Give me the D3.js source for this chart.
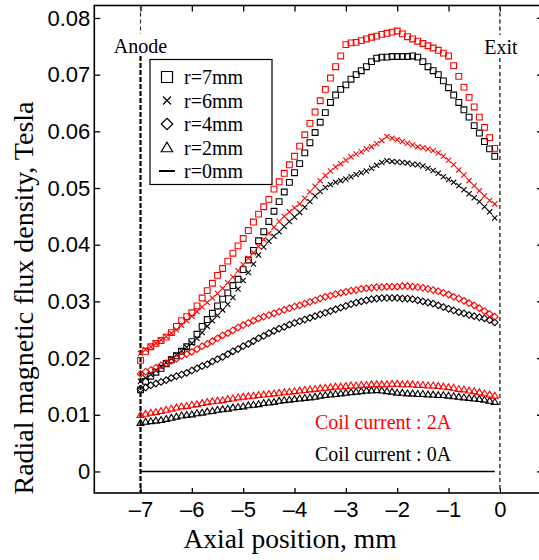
<!DOCTYPE html>
<html>
<head>
<meta charset="utf-8">
<script src="https://cdn.jsdelivr.net/npm/d3@7"></script>
<style>
  body { margin: 0; background: #fff; }
  svg { display: block; }
</style>
</head>
<body>
<svg id="chart" width="539" height="560"></svg>
<script>
// Axial measurement positions (mm), anode at -7, exit at 0
const positions = [
  -7.0, -6.9, -6.8, -6.7, -6.6, -6.5, -6.4, -6.3, -6.2, -6.1,
  -6.0, -5.9, -5.8, -5.7, -5.6, -5.5, -5.4, -5.3, -5.2, -5.1,
  -5.0, -4.9, -4.8, -4.7, -4.6, -4.5, -4.4, -4.3, -4.2, -4.1,
  -4.0, -3.9, -3.8, -3.7, -3.6, -3.5, -3.4, -3.3, -3.2, -3.1,
  -3.0, -2.9, -2.8, -2.7, -2.6, -2.5, -2.4, -2.3, -2.2, -2.1,
  -2.0, -1.9, -1.8, -1.7, -1.6, -1.5, -1.4, -1.3, -1.2, -1.1,
  -1.0, -0.9, -0.8, -0.7, -0.6, -0.5, -0.4, -0.3, -0.2, -0.1
];

// Radial flux density (T), coil current 2A
const r7_2A = [
  .0196, .0212, .0220, .0226, .0231, .0237, .0245, .0256, .0266, .0273,
  .0280, .0292, .0306, .0319, .0332, .0346, .0358, .0371, .0385, .0398,
  .0411, .0425, .0440, .0454, .0467, .0480, .0498, .0511, .0526, .0541,
  .0556, .0574, .0594, .0614, .0634, .0654, .0674, .0694, .0714, .0733,
  .0753, .0756, .0757, .0760, .0763, .0766, .0768, .0771, .0773, .0775,
  .0777, .0772, .0767, .0763, .0759, .0755, .0751, .0747, .0743, .0738,
  .0733, .0716, .0697, .0678, .0660, .0643, .0625, .0607, .0589, .0570
];
const r6_2A = [
  .0208, .0215, .0220, .0226, .0232, .0238, .0244, .0250, .0258, .0266,
  .0274, .0282, .0290, .0298, .0306, .0314, .0323, .0333, .0343, .0354,
  .0365, .0376, .0386, .0397, .0409, .0420, .0431, .0441, .0450, .0458,
  .0465, .0472, .0482, .0493, .0503, .0513, .0522, .0530, .0537, .0543,
  .0549, .0555, .0560, .0564, .0569, .0573, .0578, .0584, .0591, .0588,
  .0585, .0582, .0579, .0576, .0573, .0571, .0569, .0566, .0562, .0556,
  .0549, .0541, .0532, .0523, .0513, .0504, .0495, .0486, .0478, .0472
];
const r4_2A = [
  .0172, .0176, .0179, .0183, .0187, .0191, .0195, .0199, .0204, .0207,
  .0211, .0216, .0221, .0225, .0230, .0235, .0240, .0244, .0249, .0254,
  .0258, .0262, .0266, .0270, .0273, .0276, .0279, .0282, .0285, .0288,
  .0291, .0293, .0296, .0299, .0302, .0305, .0308, .0310, .0313, .0315,
  .0317, .0319, .0320, .0322, .0323, .0324, .0325, .0325, .0326, .0326,
  .0326, .0327, .0327, .0326, .0325, .0324, .0322, .0320, .0318, .0315,
  .0312, .0308, .0305, .0301, .0297, .0293, .0288, .0283, .0278, .0273
];
const r2_2A = [
  .0100, .0102, .0104, .0105, .0107, .0109, .0111, .0113, .0115, .0116,
  .0118, .0119, .0121, .0123, .0124, .0125, .0126, .0128, .0129, .0131,
  .0132, .0133, .0134, .0135, .0136, .0137, .0138, .0139, .0140, .0141,
  .0142, .0143, .0144, .0145, .0146, .0147, .0148, .0149, .0150, .0150,
  .0151, .0152, .0152, .0153, .0153, .0154, .0154, .0154, .0154, .0155,
  .0155, .0154, .0154, .0154, .0153, .0153, .0152, .0152, .0151, .0150,
  .0149, .0148, .0146, .0145, .0143, .0142, .0140, .0138, .0136, .0134
];
const r0_2A = [
  0, 0, 0, 0, 0, 0, 0, 0, 0, 0,
  0, 0, 0, 0, 0, 0, 0, 0, 0, 0,
  0, 0, 0, 0, 0, 0, 0, 0, 0, 0,
  0, 0, 0, 0, 0, 0, 0, 0, 0, 0,
  0, 0, 0, 0, 0, 0, 0, 0, 0, 0,
  0, 0, 0, 0, 0, 0, 0, 0, 0, 0,
  0, 0, 0, 0, 0, 0, 0, 0, 0, 0
];

// Radial flux density (T), coil current 0A
const r7_0A = [
  .0144, .0159, .0168, .0175, .0182, .0190, .0197, .0204, .0212, .0220,
  .0229, .0242, .0256, .0268, .0279, .0292, .0304, .0315, .0328, .0339,
  .0356, .0373, .0390, .0407, .0423, .0441, .0459, .0476, .0493, .0510,
  .0527, .0543, .0562, .0580, .0598, .0616, .0633, .0651, .0664, .0674,
  .0682, .0692, .0700, .0707, .0714, .0723, .0729, .0731, .0731, .0732,
  .0732, .0732, .0732, .0733, .0731, .0723, .0714, .0707, .0700, .0689,
  .0677, .0664, .0651, .0638, .0625, .0610, .0597, .0582, .0569, .0556
];
const r6_0A = [
  .0159, .0165, .0171, .0178, .0185, .0192, .0199, .0206, .0213, .0219,
  .0226, .0235, .0245, .0256, .0266, .0275, .0285, .0295, .0307, .0322,
  .0337, .0351, .0366, .0382, .0396, .0406, .0415, .0423, .0432, .0441,
  .0449, .0457, .0466, .0476, .0486, .0494, .0501, .0506, .0510, .0513,
  .0516, .0520, .0524, .0527, .0530, .0535, .0540, .0545, .0548, .0547,
  .0546, .0545, .0544, .0542, .0541, .0539, .0535, .0531, .0526, .0520,
  .0515, .0510, .0504, .0497, .0490, .0483, .0476, .0467, .0458, .0447
];
const r4_0A = [
  .0145, .0148, .0152, .0155, .0158, .0161, .0165, .0168, .0171, .0174,
  .0178, .0182, .0186, .0189, .0194, .0198, .0202, .0207, .0212, .0216,
  .0221, .0225, .0230, .0235, .0239, .0244, .0248, .0252, .0255, .0259,
  .0262, .0265, .0268, .0271, .0274, .0277, .0280, .0283, .0286, .0289,
  .0292, .0295, .0298, .0300, .0302, .0304, .0305, .0306, .0306, .0306,
  .0306, .0305, .0305, .0304, .0302, .0300, .0298, .0296, .0293, .0290,
  .0287, .0284, .0281, .0279, .0276, .0274, .0272, .0270, .0267, .0263
];
const r2_0A = [
  .0086, .0088, .0089, .0090, .0091, .0093, .0095, .0097, .0099, .0100,
  .0101, .0103, .0104, .0106, .0107, .0109, .0110, .0111, .0113, .0114,
  .0115, .0117, .0118, .0119, .0121, .0122, .0123, .0125, .0126, .0127,
  .0128, .0129, .0130, .0131, .0132, .0134, .0135, .0136, .0137, .0138,
  .0139, .0140, .0141, .0142, .0143, .0143, .0144, .0143, .0142, .0141,
  .0139, .0139, .0138, .0138, .0137, .0137, .0136, .0136, .0135, .0135,
  .0134, .0133, .0132, .0131, .0130, .0129, .0128, .0127, .0125, .0123
];
const r0_0A = [
  0, 0, 0, 0, 0, 0, 0, 0, 0, 0,
  0, 0, 0, 0, 0, 0, 0, 0, 0, 0,
  0, 0, 0, 0, 0, 0, 0, 0, 0, 0,
  0, 0, 0, 0, 0, 0, 0, 0, 0, 0,
  0, 0, 0, 0, 0, 0, 0, 0, 0, 0,
  0, 0, 0, 0, 0, 0, 0, 0, 0, 0,
  0, 0, 0, 0, 0, 0, 0, 0, 0, 0
];

const legendLabels = ["r=7mm", "r=6mm", "r=4mm", "r=2mm", "r=0mm"];
const legendShapes = ["square", "cross", "diamond", "triangle", "line"];
const xTicks = [-7, -6, -5, -4, -3, -2, -1, 0];
const yTicks = [0, 0.01, 0.02, 0.03, 0.04, 0.05, 0.06, 0.07, 0.08];
const anodePos = -7;
const exitPos = 0;

const serif = "'Liberation Serif', 'Times New Roman', serif";
const sans = "'Liberation Sans', Arial, sans-serif";

const svg = d3.select("#chart");
const frame = { left: 94.3, right: 543, top: 5.5, bottom: 493 };

const x = d3.scaleLinear().domain([-7.9, 0.84]).range([frame.left, frame.right]);
const y = d3.scaleLinear().domain([-0.0038, 0.0822]).range([frame.bottom, frame.top]);

svg.append("defs").append("clipPath").attr("id", "plotclip")
  .append("rect")
  .attr("x", frame.left).attr("y", frame.top)
  .attr("width", frame.right - frame.left).attr("height", frame.bottom - frame.top);

// Axes with inward ticks on all four sides
const axB = svg.append("g").attr("transform", `translate(0,${frame.bottom})`)
  .call(d3.axisBottom(x).tickValues(xTicks).tickSizeInner(-5).tickSizeOuter(0).tickPadding(8)
    .tickFormat(d => d === 0 ? "0" : "\u2013" + Math.abs(d)));
const axT = svg.append("g").attr("transform", `translate(0,${frame.top})`)
  .call(d3.axisTop(x).tickValues(xTicks).tickSizeInner(-6).tickSizeOuter(0).tickFormat(""));
const axL = svg.append("g").attr("transform", `translate(${frame.left},0)`)
  .call(d3.axisLeft(y).tickValues(yTicks).tickSizeInner(-6).tickSizeOuter(0).tickPadding(4)
    .tickFormat(d => d === 0 ? "0" : d3.format(".2f")(d)));
const axR = svg.append("g").attr("transform", `translate(${frame.right},0)`)
  .call(d3.axisRight(y).tickValues(yTicks).tickSizeInner(-6).tickSizeOuter(0).tickFormat(""));

[axB, axT, axL, axR].forEach(g => {
  g.select(".domain").remove();
  g.selectAll(".tick line").attr("stroke", "#000").attr("stroke-width", 1.3);
  g.selectAll(".tick text").attr("font-family", sans).attr("font-size", 22).attr("fill", "#000");
});

svg.append("rect")
  .attr("x", frame.left).attr("y", frame.top)
  .attr("width", frame.right - frame.left).attr("height", frame.bottom - frame.top)
  .attr("fill", "none").attr("stroke", "#000").attr("stroke-width", 1.6);

// Anode and exit markers
const ax = x(anodePos), ex = x(exitPos);
svg.append("line").attr("x1", ax).attr("x2", ax).attr("y1", frame.top).attr("y2", 34)
  .attr("stroke", "#333").attr("stroke-width", 1.2).attr("stroke-dasharray", "4,3");
svg.append("line").attr("x1", ax).attr("x2", ax).attr("y1", 56).attr("y2", frame.bottom)
  .attr("stroke", "#000").attr("stroke-width", 2.2).attr("stroke-dasharray", "5,2");
svg.append("line").attr("x1", ex).attr("x2", ex).attr("y1", frame.top).attr("y2", 35)
  .attr("stroke", "#444").attr("stroke-width", 1.6).attr("stroke-dasharray", "4,3");
svg.append("line").attr("x1", ex).attr("x2", ex).attr("y1", 58).attr("y2", frame.bottom)
  .attr("stroke", "#444").attr("stroke-width", 1.6).attr("stroke-dasharray", "4,3");

svg.append("text").attr("x", ax).attr("y", 53).attr("text-anchor", "middle")
  .attr("font-family", serif).attr("font-size", 20).text("Anode");
svg.append("text").attr("x", ex + 1).attr("y", 54).attr("text-anchor", "middle")
  .attr("font-family", serif).attr("font-size", 20).text("Exit");

// Marker shapes
function shapePath(kind, s) {
  switch (kind) {
    case "square": return `M${-s},${-s}H${s}V${s}H${-s}Z`;
    case "cross": return `M${-s},${-s}L${s},${s}M${-s},${s}L${s},${-s}`;
    case "diamond": return `M0,${-s * 1.15}L${s * 1.15},0L0,${s * 1.15}L${-s * 1.15},0Z`;
    case "triangle": return `M0,${-s * 1.05}L${s * 1.15},${s * 0.85}L${-s * 1.15},${s * 0.85}Z`;
  }
}

const plot = svg.append("g").attr("clip-path", "url(#plotclip)");

// r = 0 mm: both coil currents lie on the zero line; the 0A trace is drawn on top
const lineGen = d3.line().x((d, i) => x(positions[i])).y(d => y(d));
plot.append("path").datum(r0_2A).attr("d", lineGen)
  .attr("fill", "none").attr("stroke", "red").attr("stroke-width", 0.6);
plot.append("path").datum(r0_0A).attr("d", lineGen)
  .attr("fill", "none").attr("stroke", "#000").attr("stroke-width", 1.4);

const series = [
  { values: r2_0A, shape: "triangle", color: "#000", size: 3.1 },
  { values: r4_0A, shape: "diamond", color: "#000", size: 2.9 },
  { values: r6_0A, shape: "cross", color: "#000", size: 2.6 },
  { values: r7_0A, shape: "square", color: "#000", size: 2.9 },
  { values: r2_2A, shape: "triangle", color: "red", size: 3.1 },
  { values: r4_2A, shape: "diamond", color: "red", size: 2.9 },
  { values: r6_2A, shape: "cross", color: "red", size: 2.6 },
  { values: r7_2A, shape: "square", color: "red", size: 2.9 }
];

series.forEach(s => {
  plot.append("g").selectAll("path").data(s.values).join("path")
    .attr("transform", (d, i) => `translate(${x(positions[i])},${y(d)})`)
    .attr("d", shapePath(s.shape, s.size))
    .attr("fill", "none").attr("stroke", s.color).attr("stroke-width", 1.1);
});

// Legend
const leg = svg.append("g");
leg.append("rect").attr("x", 150).attr("y", 59.5).attr("width", 122).attr("height", 125)
  .attr("fill", "#fff").attr("stroke", "#000").attr("stroke-width", 1.2);
legendLabels.forEach((lab, i) => {
  const cy = 77 + i * 23.5;
  const g = leg.append("g").attr("transform", `translate(167,${cy})`);
  const kind = legendShapes[i];
  if (kind === "line") {
    g.append("line").attr("x1", -8).attr("x2", 8).attr("y1", 0).attr("y2", 0)
      .attr("stroke", "#000").attr("stroke-width", 2);
  } else {
    const sz = kind === "square" ? 5.5 : kind === "cross" ? 4 : 5;
    g.append("path").attr("d", shapePath(kind, sz))
      .attr("fill", "none").attr("stroke", "#000").attr("stroke-width", 1.2);
  }
  leg.append("text").attr("x", 184).attr("y", cy + 7)
    .attr("font-family", serif).attr("font-size", 20).text(lab);
});

// Annotations
svg.append("text").attr("x", 315).attr("y", 429)
  .attr("font-family", serif).attr("font-size", 20).attr("fill", "red").text("Coil current : 2A");
svg.append("text").attr("x", 315).attr("y", 460.5)
  .attr("font-family", serif).attr("font-size", 20).attr("fill", "#000").text("Coil current : 0A");

// Axis titles
svg.append("text").attr("x", 290).attr("y", 548).attr("text-anchor", "middle")
  .attr("font-family", serif).attr("font-size", 27.5).text("Axial position, mm");
svg.append("text").attr("transform", "translate(33,298) rotate(-90)").attr("text-anchor", "middle")
  .attr("font-family", serif).attr("font-size", 28).text("Radial magnetic flux density, Tesla");
</script>
</body>
</html>
